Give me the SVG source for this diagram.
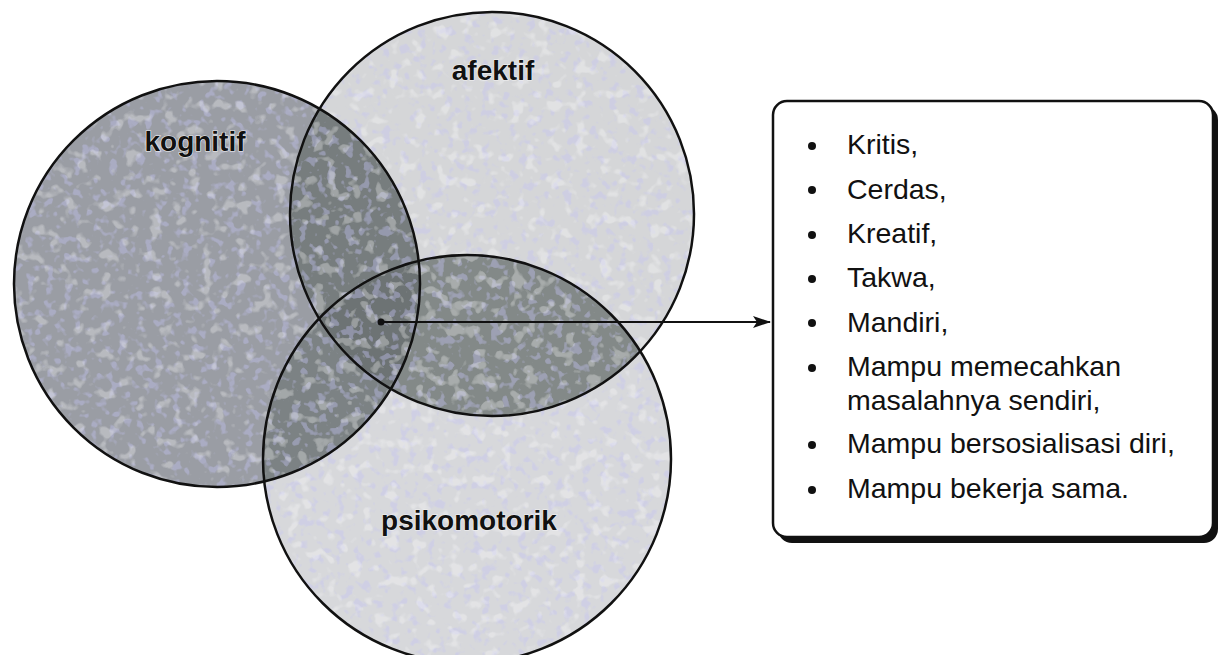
<svg xmlns="http://www.w3.org/2000/svg" width="1221" height="655" viewBox="0 0 1221 655">
  <style>
    .outline { fill: none; stroke: #111; stroke-width: 2.5; }
    .label { font-family: "Liberation Sans", Arial, sans-serif; font-weight: bold; font-size: 28px; fill: #111; text-anchor: middle; stroke: #f2f2f2; stroke-width: 1.2; paint-order: stroke; }
    .item { font-family: "Liberation Sans", Arial, sans-serif; font-size: 28.5px; fill: #111; }
    .bullet { fill: #111; }
  </style>
  <defs>
    <clipPath id="cK"><circle cx="217" cy="284" r="203"/></clipPath>
    <clipPath id="cA"><circle cx="492" cy="214" r="202"/></clipPath>
    <clipPath id="cP"><circle cx="467" cy="459" r="204"/></clipPath>
    <filter id="blue" x="0" y="0" width="100%" height="100%">
      <feTurbulence type="fractalNoise" baseFrequency="0.11" numOctaves="2" seed="3"/>
      <feColorMatrix type="matrix" values="0 0 0 0 0.55  0 0 0 0 0.55  0 0 0 0 0.9  7 0 0 0 -3.9"/>
    </filter>
    <filter id="white" x="0" y="0" width="100%" height="100%">
      <feTurbulence type="fractalNoise" baseFrequency="0.08" numOctaves="2" seed="11"/>
      <feColorMatrix type="matrix" values="0 0 0 0 1  0 0 0 0 1  0 0 0 0 1  -7 0 0 0 3.0"/>
    </filter>
    <marker id="arrow" markerWidth="18" markerHeight="12" refX="17" refY="6" orient="auto" markerUnits="userSpaceOnUse">
      <path d="M0,0 L18,6 L0,12 L4,6 Z" fill="#111"/>
    </marker>
  </defs>

  <rect width="1221" height="655" fill="#fff"/>

  <g id="kognitif">
    <circle cx="217" cy="284" r="203" fill="#9a9da4"/>
  </g>
  <g id="afektif">
    <circle cx="492" cy="214" r="202" fill="#d5d6d8"/>
  </g>
  <g id="psikomotorik">
    <circle cx="467" cy="459" r="204" fill="#d7d8db"/>
  </g>

  <g id="overlaps">
    <g clip-path="url(#cK)"><circle cx="492" cy="214" r="202" fill="#777d7e"/></g>
    <g clip-path="url(#cK)"><circle cx="467" cy="459" r="204" fill="#7c8284"/></g>
    <g clip-path="url(#cA)"><circle cx="467" cy="459" r="204" fill="#838988"/></g>
    <g clip-path="url(#cK)"><g clip-path="url(#cA)"><circle cx="467" cy="459" r="204" fill="#6d7374"/></g></g>
  </g>

  <g id="texture">
    <g opacity="0.4">
      <g clip-path="url(#cK)"><rect x="0" y="70" width="430" height="430" filter="url(#blue)"/></g>
      <g clip-path="url(#cA)"><rect x="285" y="8" width="420" height="415" filter="url(#blue)"/></g>
      <g clip-path="url(#cP)"><rect x="258" y="250" width="420" height="405" filter="url(#blue)"/></g>
    </g>
    <g opacity="0.3">
      <g clip-path="url(#cK)"><rect x="0" y="70" width="430" height="430" filter="url(#white)"/></g>
      <g clip-path="url(#cA)"><rect x="285" y="8" width="420" height="415" filter="url(#white)"/></g>
      <g clip-path="url(#cP)"><rect x="258" y="250" width="420" height="405" filter="url(#white)"/></g>
    </g>
  </g>

  <g id="outlines">
    <circle class="outline" cx="217" cy="284" r="203"/>
    <circle class="outline" cx="492" cy="214" r="202"/>
    <circle class="outline" cx="467" cy="459" r="204"/>
  </g>

  <g id="labels">
    <text class="label" x="195" y="151">kognitif</text>
    <text class="label" x="493" y="80">afektif</text>
    <text class="label" x="469" y="530">psikomotorik</text>
  </g>

  <g id="connectors">
    <circle cx="381" cy="322" r="3.5" fill="#111"/>
    <line x1="381" y1="322" x2="770" y2="322" stroke="#111" stroke-width="2" marker-end="url(#arrow)"/>
  </g>

  <g id="box">
    <rect x="778" y="106" width="440" height="437" rx="14" fill="#111"/>
    <rect x="773" y="101" width="440" height="436" rx="14" fill="#fff" stroke="#111" stroke-width="2.5"/>
    <circle class="bullet" cx="812" cy="146" r="4"/>
    <circle class="bullet" cx="812" cy="190" r="4"/>
    <circle class="bullet" cx="812" cy="235" r="4"/>
    <circle class="bullet" cx="812" cy="279" r="4"/>
    <circle class="bullet" cx="812" cy="323" r="4"/>
    <circle class="bullet" cx="812" cy="368" r="4"/>
    <circle class="bullet" cx="812" cy="445" r="4"/>
    <circle class="bullet" cx="812" cy="490" r="4"/>
    <text class="item" x="847" y="154">Kritis,</text>
    <text class="item" x="847" y="199">Cerdas,</text>
    <text class="item" x="847" y="243">Kreatif,</text>
    <text class="item" x="847" y="287">Takwa,</text>
    <text class="item" x="847" y="332">Mandiri,</text>
    <text class="item" x="847" y="376">Mampu memecahkan</text>
    <text class="item" x="847" y="410">masalahnya sendiri,</text>
    <text class="item" x="847" y="453">Mampu bersosialisasi diri,</text>
    <text class="item" x="847" y="498">Mampu bekerja sama.</text>
  </g>
</svg>
